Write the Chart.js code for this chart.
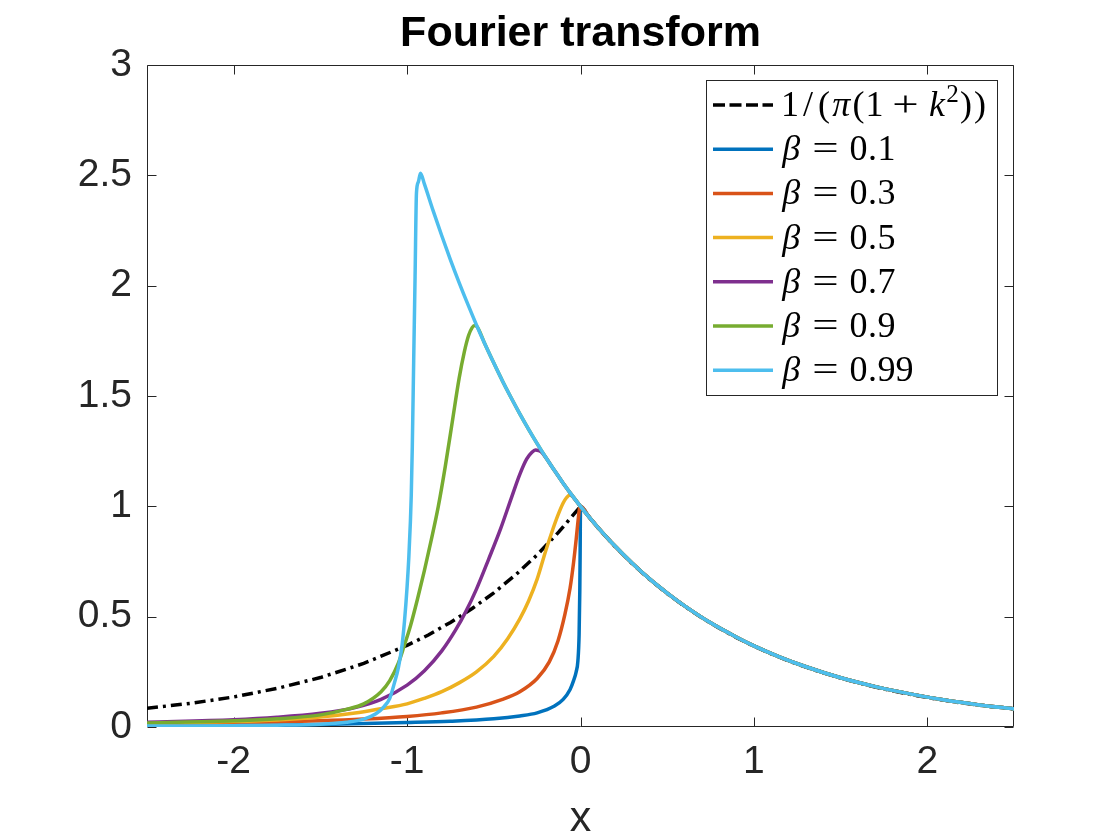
<!DOCTYPE html>
<html><head><meta charset="utf-8">
<script src="https://cdn.jsdelivr.net/npm/chart.js@4.4.0/dist/chart.umd.min.js"></script>
<style>html,body{margin:0;padding:0;background:#fff;}canvas{display:block;}</style>
</head><body>
<canvas id="c" width="1120" height="840"></canvas>
<script>
// ---- tick values / labels ----
const xTicks = [-2, -1, 0, 1, 2];
const xTickLabels = ['-2', '-1', '0', '1', '2'];
const yTicks = [0, 0.5, 1, 1.5, 2, 2.5, 3];
const yTickLabels = ['0', '0.5', '1', '1.5', '2', '2.5', '3'];

// ---- series labels ----
const seriesLabels = ['1/(π(1+k²))', 'β = 0.1', 'β = 0.3', 'β = 0.5', 'β = 0.7', 'β = 0.9', 'β = 0.99'];

// ---- reference curve (dash-dot) ----
const refX = [-2.5,-2.25,-2,-1.75,-1.5,-1.25,-1,-0.875,-0.75,-0.625,-0.5,-0.375,-0.25,-0.125,0,0.1,0.2,0.3,0.4,0.5,0.6,0.7,0.8,0.9,1,1.1,1.2,1.3,1.4,1.5,1.6,1.7,1.8,1.9,2,2.1,2.2,2.3,2.4,2.5];
const refY = [0.085,0.107,0.136,0.175,0.224,0.288,0.37,0.418,0.474,0.537,0.608,0.689,0.78,0.884,1.0,0.903,0.817,0.739,0.668,0.605,0.547,0.495,0.448,0.405,0.366,0.331,0.3,0.271,0.245,0.222,0.2,0.181,0.164,0.148,0.134,0.121,0.109,0.099,0.09,0.081];

// ---- shared right-hand envelope ----
const tailX = [-0.9,-0.85,-0.8,-0.75,-0.7,-0.65,-0.6,-0.55,-0.5,-0.45,-0.4,-0.35,-0.3,-0.25,-0.2,-0.15,-0.1,-0.05,0,0.05,0.1,0.2,0.3,0.4,0.5,0.6,0.75,0.9,1,1.15,1.3,1.5,1.7,1.9,2.1,2.3,2.5];
const tailY = [2.46,2.34,2.226,2.117,2.014,1.916,1.822,1.733,1.649,1.568,1.492,1.419,1.35,1.284,1.221,1.162,1.105,1.051,1.0,0.951,0.905,0.819,0.741,0.67,0.607,0.549,0.472,0.407,0.368,0.317,0.273,0.223,0.183,0.15,0.122,0.1,0.082];

// ---- rising parts of each beta curve ----
const b01X = [-2.5,-2,-1.5,-1,-0.75,-0.5,-0.35,-0.25,-0.15,-0.1,-0.06,-0.04,-0.025,-0.015,-0.008,-0.004,-0.002,0];
const b01Y = [0.005,0.007,0.011,0.02,0.026,0.037,0.05,0.064,0.095,0.125,0.17,0.21,0.25,0.30,0.42,0.62,0.8,1.0];

const b03X = [-2.5,-2,-1.5,-1.25,-1,-0.8,-0.6,-0.45,-0.35,-0.25,-0.18,-0.13,-0.09,-0.06,-0.04,-0.025,-0.012,-0.005,0];
const b03Y = [0.012,0.018,0.028,0.036,0.048,0.064,0.09,0.125,0.16,0.22,0.295,0.39,0.51,0.63,0.745,0.85,0.95,0.993,1.0];

const b05X = [-2.5,-2,-1.75,-1.5,-1.3,-1.15,-1,-0.9,-0.8,-0.7,-0.6,-0.5,-0.42,-0.35,-0.3,-0.25,-0.2,-0.16,-0.13,-0.1,-0.08,-0.065,-0.05,-0.035];
const b05Y = [0.017,0.025,0.032,0.045,0.063,0.083,0.105,0.13,0.16,0.2,0.25,0.32,0.4,0.49,0.57,0.67,0.8,0.895,0.96,1.015,1.04,1.05,1.048,1.036];

const b07X = [-2.5,-2,-1.75,-1.5,-1.3,-1.15,-1,-0.9,-0.8,-0.72,-0.66,-0.6,-0.53,-0.46,-0.4,-0.35,-0.31,-0.28,-0.26,-0.24,-0.22];
const b07Y = [0.022,0.033,0.044,0.062,0.088,0.125,0.19,0.255,0.345,0.44,0.525,0.625,0.76,0.9,1.035,1.145,1.215,1.245,1.255,1.252,1.242];

const b09X = [-2.5,-2,-1.75,-1.5,-1.35,-1.25,-1.15,-1.1,-1.05,-1.02,-0.98,-0.94,-0.9,-0.86,-0.82,-0.78,-0.74,-0.7,-0.67,-0.645,-0.625,-0.61,-0.595];
const b09Y = [0.018,0.028,0.037,0.055,0.08,0.105,0.16,0.21,0.29,0.36,0.46,0.58,0.71,0.85,1.0,1.18,1.38,1.58,1.7,1.775,1.81,1.82,1.813];

const b099X = [-2.5,-2,-1.75,-1.5,-1.35,-1.25,-1.18,-1.13,-1.1,-1.073,-1.05,-1.029,-1.015,-1.0,-0.99,-0.981,-0.976,-0.97,-0.962,-0.954,-0.946,-0.935,-0.923];
const b099Y = [0.004,0.006,0.008,0.013,0.022,0.036,0.06,0.095,0.13,0.2,0.27,0.372,0.48,0.636,0.77,0.93,1.05,1.27,1.66,2.04,2.42,2.47,2.51];

// ---- styles ----
const colors = ['#000000', '#0072BD', '#D95319', '#EDB120', '#7E2F8E', '#77AC30', '#4DBEEE'];
const axisColor = '#262626';

function pts(xs, ys) { return xs.map((x, i) => ({x: x, y: ys[i]})); }
function withTail(xs, ys) {
  const last = xs[xs.length - 1];
  const p = pts(xs, ys);
  tailX.forEach((x, i) => { if (x > last + 1e-9) p.push({x: x, y: tailY[i]}); });
  return p;
}

const seriesData = [
  pts(refX, refY),
  withTail(b01X, b01Y),
  withTail(b03X, b03Y),
  withTail(b05X, b05Y),
  withTail(b07X, b07Y),
  withTail(b09X, b09Y),
  withTail(b099X, b099Y)
];

const datasets = seriesData.map((d, i) => ({
  label: seriesLabels[i],
  data: d,
  borderColor: colors[i],
  backgroundColor: colors[i],
  borderWidth: 3.5,
  borderDash: i === 0 ? [11, 5, 3, 5] : [],
  pointRadius: 0,
  fill: false,
  tension: 0,
  cubicInterpolationMode: i === 0 ? 'default' : 'monotone',
  order: seriesData.length - 1 - i
}));

// ---- box + inward ticks ----
const boxPlugin = {
  id: 'boxTicks',
  beforeDatasetsDraw(chart) {
    const {ctx, chartArea: a, scales} = chart;
    const L = Math.round(a.left) + 0.5, R = Math.round(a.right) - 0.5;
    const T = Math.round(a.top) + 0.5, B = Math.round(a.bottom) - 0.5;
    const tl = 9;
    ctx.save();
    ctx.strokeStyle = axisColor;
    ctx.lineWidth = 1;
    ctx.beginPath();
    ctx.rect(L, T, R - L, B - T);
    xTicks.forEach(v => {
      const px = Math.round(scales.x.getPixelForValue(v)) + 0.5;
      ctx.moveTo(px, B); ctx.lineTo(px, B - tl);
      ctx.moveTo(px, T); ctx.lineTo(px, T + tl);
    });
    yTicks.forEach(v => {
      const py = Math.round(scales.y.getPixelForValue(v)) + 0.5;
      ctx.moveTo(L, py); ctx.lineTo(L + tl, py);
      ctx.moveTo(R, py); ctx.lineTo(R - tl, py);
    });
    ctx.stroke();
    ctx.restore();
  }
};

// ---- legend with math-style labels ----
const adv = {'0':.5,'1':.5,'2':.5,'3':.5,'4':.5,'5':.5,'6':.5,'7':.5,'8':.5,'9':.5,'.':.278,'/':.5,'(':.389,')':.389,'β':.566,'π':.57,'k':.521};
function drawMath(ctx, text, x, baseline, size) {
  let cx = x;
  ctx.fillStyle = '#000';
  ctx.textBaseline = 'alphabetic';
  for (const ch of text) {
    if (ch === ' ') continue;
    if (ch === '=' || ch === '+') {
      const sp = (ch === '=' ? 0.278 : 0.222) * size;
      cx += sp;
      const w = 0.778 * size;
      ctx.save();
      ctx.font = size + 'px "Liberation Serif"';
      ctx.textAlign = 'center';
      ctx.translate(cx + w / 2, baseline);
      ctx.scale(1.3, 1);
      ctx.fillText(ch, 0, 0);
      ctx.restore();
      cx += w + sp;
      continue;
    }
    const sup = ch === '²';
    const g = sup ? '2' : ch;
    const fs = sup ? size * 0.7 : size;
    const italic = 'βπk'.includes(ch);
    const w = (adv[g] !== undefined ? adv[g] : 0.5) * fs;
    ctx.font = (italic ? 'italic ' : '') + fs + 'px "Liberation Serif"';
    ctx.textAlign = 'left';
    const mw = ctx.measureText(g).width;
    ctx.fillText(g, cx + (w - mw) / 2, baseline - (sup ? 0.38 * size : 0));
    cx += w;
  }
}
const legendPlugin = {
  id: 'mathLegend',
  afterDraw(chart) {
    const {ctx, chartArea: a} = chart;
    const ds = chart.data.datasets;
    const left = Math.round(a.right) - 308, top = Math.round(a.top) + 15;
    const w = 292, h = 316;
    ctx.save();
    ctx.fillStyle = '#fff';
    ctx.fillRect(left, top, w, h);
    ctx.strokeStyle = axisColor;
    ctx.lineWidth = 1;
    ctx.strokeRect(left + 0.5, top + 0.5, w - 1, h - 1);
    ds.forEach((d, i) => {
      const cy = top + 25 + i * 44.2;
      ctx.save();
      ctx.strokeStyle = d.borderColor;
      ctx.lineWidth = 3.5;
      ctx.setLineDash(i === 0 ? [12, 4.5] : []);
      ctx.beginPath();
      ctx.moveTo(left + 7, cy);
      ctx.lineTo(left + 67, cy);
      ctx.stroke();
      ctx.restore();
      drawMath(ctx, d.label, left + 75, cy + 11, 36);
    });
    ctx.restore();
  }
};

new Chart(document.getElementById('c'), {
  type: 'line',
  data: {datasets: datasets},
  plugins: [boxPlugin, legendPlugin],
  options: {
    responsive: false,
    animation: false,
    devicePixelRatio: 1,
    layout: {padding: {left: 0, right: 106, top: 0, bottom: 0}},
    plugins: {
      legend: {display: false},
      tooltip: {enabled: false},
      title: {
        display: true,
        fullSize: false,
        text: 'Fourier transform',
        color: '#000',
        font: {family: '"Liberation Sans", Arial, sans-serif', size: 43, weight: 'bold', lineHeight: 1.2},
        padding: {top: 8, bottom: 5.4}
      }
    },
    scales: {
      x: {
        type: 'linear',
        min: -2.5, max: 2.5,
        grid: {display: false, drawTicks: false},
        border: {display: false},
        afterBuildTicks: s => { s.ticks = xTicks.map(v => ({value: v})); },
        afterFit: s => { s.height = 113; },
        ticks: {
          color: axisColor,
          padding: 12,
          maxRotation: 0,
          font: {family: '"Liberation Sans", Arial, sans-serif', size: 39},
          callback: (v) => xTickLabels[xTicks.indexOf(v)]
        },
        title: {
          display: true, text: 'x', color: axisColor,
          font: {family: '"Liberation Sans", Arial, sans-serif', size: 43},
          padding: {top: 0, bottom: -5}
        }
      },
      y: {
        type: 'linear',
        min: 0, max: 3,
        grid: {display: false, drawTicks: false},
        border: {display: false},
        afterBuildTicks: s => { s.ticks = yTicks.map(v => ({value: v})); },
        afterFit: s => { s.width = 147; },
        ticks: {
          color: axisColor,
          padding: 15,
          font: {family: '"Liberation Sans", Arial, sans-serif', size: 39},
          callback: (v) => yTickLabels[yTicks.indexOf(v)]
        }
      }
    }
  }
});
</script>
</body></html>
